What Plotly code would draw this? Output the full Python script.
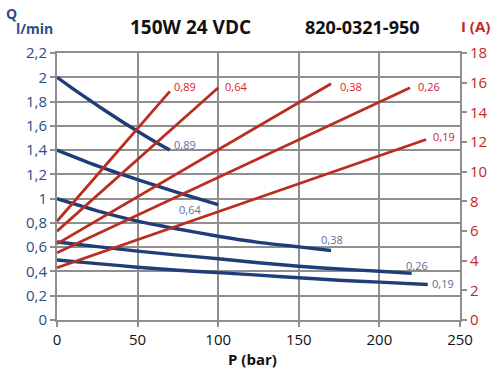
import plotly.graph_objects as go

# Pressure axis (bar) and flow curves Q (l/min) for each nozzle size
nozzles = ["0,89", "0,64", "0,38", "0,26", "0,19"]

p_089 = [0, 10, 20, 30, 40, 50, 60, 70]
q_089 = [2.00, 1.905, 1.813, 1.724, 1.638, 1.555, 1.475, 1.40]

p_064 = [0, 25, 50, 75, 100]
q_064 = [1.40, 1.27, 1.157, 1.05, 0.95]

p_038 = [0, 25, 50, 75, 100, 125, 150, 170]
q_038 = [1.00, 0.90, 0.815, 0.75, 0.69, 0.64, 0.603, 0.573]

p_026 = [0, 25, 50, 75, 100, 125, 150, 175, 200, 220]
q_026 = [0.643, 0.605, 0.568, 0.535, 0.505, 0.472, 0.443, 0.42, 0.402, 0.384]

p_019 = [0, 25, 50, 75, 100, 125, 150, 175, 200, 230]
q_019 = [0.495, 0.465, 0.435, 0.41, 0.39, 0.37, 0.348, 0.328, 0.312, 0.293]

# Current draw I (A): straight lines from P=0 to the max pressure of each nozzle
i_p_end = [70, 100, 170, 219, 229]
i_start = [6.66, 5.99, 5.14, 4.53, 3.52]
i_end = [15.41, 15.66, 15.93, 15.66, 12.17]

q_ticks = [0, 0.2, 0.4, 0.6, 0.8, 1.0, 1.2, 1.4, 1.6, 1.8, 2.0, 2.2]
i_ticks = [0, 2, 4, 6, 8, 10, 12, 14, 16, 18]
p_ticks = [0, 50, 100, 150, 200, 250]

BLUE = "#1f3e78"
RED = "#b92e20"
GRID = "#8e8e8e"
BLUE_TXT = "#2d4b8c"
RED_TXT = "#c4281e"
BLUE_LBL = "#5e6c9c"
RED_LBL = "#d6202c"
FONT = "Open Sans"

flow = [(p_089, q_089), (p_064, q_064), (p_038, q_038), (p_026, q_026), (p_019, q_019)]

fig = go.Figure()
for (p, q), name in zip(flow, nozzles):
    fig.add_trace(go.Scatter(x=p, y=q, mode="lines", name=name,
                             line=dict(color=BLUE, width=3.4, shape="spline", smoothing=0.6),
                             showlegend=False, hoverinfo="skip"))
for name, pe, i0, i1 in zip(nozzles, i_p_end, i_start, i_end):
    fig.add_trace(go.Scatter(x=[0, pe], y=[i0, i1], mode="lines", name=name, yaxis="y2",
                             line=dict(color=RED, width=2.8),
                             showlegend=False, hoverinfo="skip"))

# End-of-curve labels (anchor, x shift, y shift in px)
blue_lbl_pos = [("left", 2, 6), ("center", -28, -5), ("center", 1, 11), ("center", 5, 8), ("left", 2, 1)]
for (p, q), name, (anc, dx, dy) in zip(flow, nozzles, blue_lbl_pos):
    fig.add_annotation(x=p[-1], y=q[-1], xref="x", yref="y", text=name, showarrow=False,
                       xanchor=anc, yanchor="middle", xshift=dx, yshift=dy,
                       font=dict(family=FONT, size=11, color=BLUE_LBL))
red_lbl_pos = [(2, 5), (5, 1), (7, -3), (6, 1), (5, 3)]
for name, pe, i1, (dx, dy) in zip(nozzles, i_p_end, i_end, red_lbl_pos):
    fig.add_annotation(x=pe, y=i1, xref="x", yref="y2", text=name, showarrow=False,
                       xanchor="left", yanchor="middle", xshift=dx, yshift=dy,
                       font=dict(family=FONT, size=11, color=RED_LBL))

# Headings and axis captions
def cap(text, x, y, size, color, bold=True):
    fig.add_annotation(x=x, y=y, xref="paper", yref="paper", text=f"<b>{text}</b>" if bold else text,
                       showarrow=False, xanchor="center", yanchor="middle",
                       font=dict(family=FONT, size=size, color=color))

L, R, T, B = 57, 33, 53, 52
W, H = 500 - L - R, 372 - T - B
px = lambda x: (x - L) / W
py = lambda y: (372 - B - y) / H

cap("150W 24 VDC", px(193), py(27), 19, "#111111")
cap("820-0321-950", px(368), py(27), 18, "#111111")
cap("I (A)", px(483), py(26), 15, RED_TXT)
cap("Q", px(10.5), py(13), 14, BLUE_TXT)
cap("l/min", px(34), py(28), 14, BLUE_TXT)
cap("P (bar)", px(256), py(359), 15, "#111111")

fig.update_layout(
    width=500, height=372,
    margin=dict(l=L, r=R, t=T, b=B),
    paper_bgcolor="white", plot_bgcolor="white",
    separators=",.",
    font=dict(family=FONT),
    xaxis=dict(range=[0, 250], tickvals=p_ticks, showgrid=True, gridcolor=GRID, gridwidth=2,
               showline=True, linecolor=GRID, linewidth=2, mirror=True,
               ticks="outside", ticklen=5, tickwidth=2, tickcolor=GRID,
               tickfont=dict(family=FONT, size=15, color="#111111"), zeroline=False),
    yaxis=dict(range=[0, 2.2], tickvals=q_ticks, showgrid=True, gridcolor=GRID, gridwidth=2,
               showline=True, linecolor=GRID, linewidth=2,
               ticks="outside", ticklen=5, tickwidth=2, tickcolor=GRID,
               tickfont=dict(family=FONT, size=15, color=BLUE_TXT), zeroline=False),
    yaxis2=dict(range=[0, 18], tickvals=i_ticks, overlaying="y", side="right", showgrid=False,
                showline=True, linecolor=GRID, linewidth=2,
                ticks="outside", ticklen=5, tickwidth=2, tickcolor=GRID,
                tickfont=dict(family=FONT, size=15, color=RED_TXT), zeroline=False),
)

fig.write_html("out.html")
